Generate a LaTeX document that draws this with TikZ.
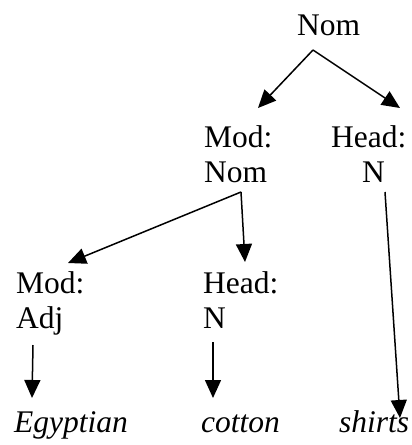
\documentclass[tikz,border=0pt]{standalone}
\usepackage{fontspec}
\setmainfont{Liberation Serif}
\usetikzlibrary{arrows.meta}
\begin{document}
\begin{tikzpicture}[x=1pt,y=-1pt,
  lbl/.style={inner sep=0pt,anchor=base west,font=\fontsize{31.5}{37}\selectfont},
  word/.style={lbl,font=\fontsize{31.5}{37}\selectfont\itshape},
  arr/.style={line width=1.5pt,-{Triangle[length=18pt,width=16pt]}}]
\useasboundingbox (0,0) rectangle (412,445);
% labels of the tree
\node[lbl] (nom)   at (297,35)  {Nom};
\node[lbl] (modA)  at (204,147) {Mod:};
\node[lbl] (modB)  at (204,182) {Nom};
\node[lbl] (headA) at (331,147) {Head:};
\node[lbl] (headB) at (362,182) {N};
\node[lbl] (modC)  at (16,293)  {Mod:};
\node[lbl] (adj)   at (16,328)  {Adj};
\node[lbl] (headC) at (203,293) {Head:};
\node[lbl] (nC)    at (203,328) {N};
% words
\node[word] (egy) at (14,432)  {Egyptian};
\node[word] (cot) at (201,432) {cotton};
\node[word] (shi) at (339,432) {shirts};
% branches
\draw[arr] ([shift={(16,15)}]nom.base west) -- ([shift={(54,-39)}]modA.base west);
\draw[arr] ([shift={(16,15)}]nom.base west) -- ([shift={(69,-39)}]headA.base west);
\draw[arr] ([shift={(37,10)}]modB.base west) -- ([shift={(52,-30)}]modC.base west);
\draw[arr] ([shift={(37,10)}]modB.base west) -- ([shift={(42,-31)}]headC.base west);
\draw[arr] ([shift={(23,10)}]headB.base west) -- ([shift={(61,-14)}]shi.base west);
\draw[arr] ([shift={(17,17)}]adj.base west) -- ([shift={(18,-34)}]egy.base west);
\draw[arr] ([shift={(10,14)}]nC.base west) -- ([shift={(12,-34)}]cot.base west);
\end{tikzpicture}
\end{document}
